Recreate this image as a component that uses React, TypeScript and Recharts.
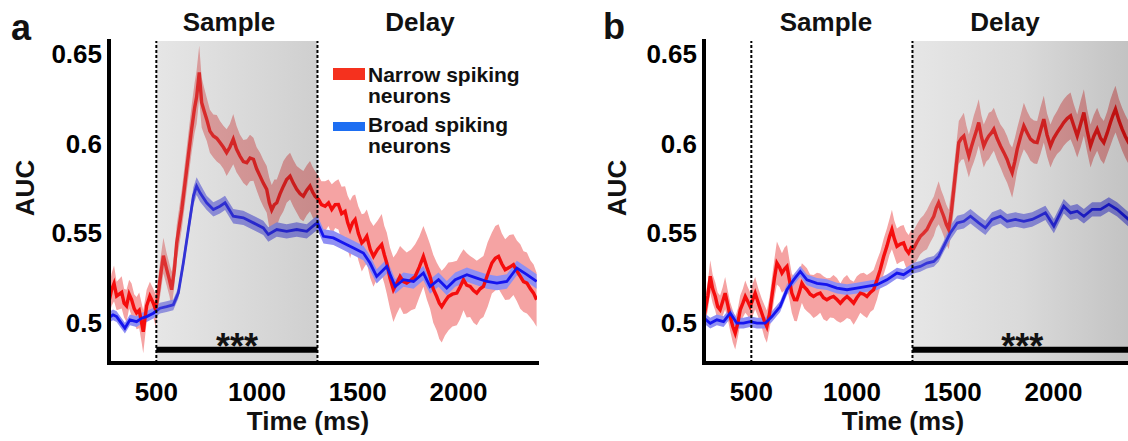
import React from "react";
import {
  ComposedChart,
  Line,
  Area,
  XAxis,
  YAxis,
  ReferenceArea,
  ReferenceLine,
  Legend,
} from "recharts";

const FONT = "'Liberation Sans', Arial, Helvetica, sans-serif";

// [time (ms), AUC, sem]
const narrowA: [number, number, number][] = [
  [265, 0.512, 0.008], [278, 0.5185, 0.009], [290, 0.522, 0.01], [303, 0.515, 0.008],
  [328, 0.517, 0.009], [340, 0.511, 0.008], [352, 0.5095, 0.009], [365, 0.516, 0.008],
  [377, 0.513, 0.009], [390, 0.508, 0.008], [402, 0.5055, 0.009], [415, 0.507, 0.01],
  [427, 0.5, 0.011], [435, 0.495, 0.012], [452, 0.5095, 0.009], [468, 0.515, 0.008],
  [485, 0.511, 0.008], [497, 0.507, 0.009], [510, 0.517, 0.009], [523, 0.528, 0.01],
  [535, 0.5375, 0.01], [551, 0.53, 0.009], [565, 0.524, 0.009], [576, 0.5185, 0.01],
  [590, 0.53, 0.009], [601, 0.5445, 0.01], [626, 0.563, 0.011], [650, 0.585, 0.012],
  [675, 0.608, 0.013], [690, 0.62, 0.014], [700, 0.626, 0.015], [713, 0.6398, 0.015],
  [725, 0.623, 0.014], [738, 0.618, 0.013], [750, 0.6137, 0.012], [766, 0.607, 0.012],
  [783, 0.6043, 0.012], [800, 0.603, 0.013], [816, 0.6006, 0.012], [833, 0.598, 0.012],
  [849, 0.595, 0.013], [865, 0.598, 0.013], [882, 0.6025, 0.014], [898, 0.597, 0.013],
  [915, 0.5931, 0.012], [932, 0.59, 0.012], [949, 0.5894, 0.013], [965, 0.592, 0.013],
  [982, 0.5913, 0.012], [998, 0.586, 0.012], [1015, 0.5819, 0.013], [1031, 0.578, 0.013],
  [1048, 0.5745, 0.013], [1061, 0.567, 0.014], [1073, 0.563, 0.014], [1086, 0.566, 0.014],
  [1098, 0.567, 0.013], [1114, 0.572, 0.013], [1131, 0.5763, 0.014], [1147, 0.58, 0.013],
  [1164, 0.5819, 0.013], [1180, 0.578, 0.013], [1197, 0.5745, 0.013], [1214, 0.572, 0.014],
  [1230, 0.5707, 0.014], [1247, 0.574, 0.014], [1263, 0.5763, 0.014], [1276, 0.573, 0.014],
  [1288, 0.5707, 0.014], [1305, 0.5689, 0.013], [1320, 0.566, 0.013], [1338, 0.5651, 0.014],
  [1355, 0.567, 0.013], [1371, 0.5633, 0.014], [1388, 0.566, 0.013], [1404, 0.5661, 0.014],
  [1420, 0.561, 0.015], [1437, 0.5623, 0.014], [1450, 0.556, 0.015], [1462, 0.5521, 0.016],
  [1475, 0.556, 0.015], [1487, 0.5577, 0.014], [1503, 0.55, 0.015], [1520, 0.5446, 0.016],
  [1532, 0.546, 0.015], [1545, 0.5483, 0.015], [1562, 0.541, 0.016], [1578, 0.5371, 0.017],
  [1598, 0.541, 0.016], [1619, 0.5437, 0.017], [1632, 0.538, 0.016], [1644, 0.5334, 0.017],
  [1660, 0.525, 0.017], [1677, 0.5185, 0.018], [1693, 0.522, 0.017], [1710, 0.5259, 0.017],
  [1727, 0.523, 0.018], [1743, 0.5222, 0.017], [1765, 0.524, 0.017], [1785, 0.5259, 0.018],
  [1805, 0.531, 0.017], [1826, 0.5371, 0.017], [1843, 0.531, 0.018], [1859, 0.5259, 0.018],
  [1875, 0.519, 0.019], [1892, 0.5147, 0.019], [1905, 0.511, 0.02], [1917, 0.5091, 0.02],
  [1933, 0.512, 0.019], [1950, 0.5147, 0.019], [1970, 0.516, 0.018], [1992, 0.5166, 0.018],
  [2008, 0.52, 0.018], [2025, 0.5241, 0.017], [2041, 0.521, 0.018], [2058, 0.5203, 0.017],
  [2075, 0.518, 0.018], [2091, 0.5166, 0.018], [2108, 0.519, 0.017], [2124, 0.5203, 0.017],
  [2145, 0.527, 0.018], [2166, 0.5334, 0.017], [2183, 0.536, 0.018], [2199, 0.5371, 0.018],
  [2215, 0.533, 0.017], [2232, 0.5297, 0.017], [2253, 0.531, 0.018], [2273, 0.5325, 0.017],
  [2290, 0.529, 0.017], [2307, 0.5259, 0.018], [2323, 0.523, 0.017], [2340, 0.5222, 0.017],
  [2357, 0.519, 0.016], [2373, 0.5166, 0.016], [2388, 0.5129, 0.015],
];

const broadA: [number, number, number][] = [
  [265, 0.503, 0.003], [285, 0.5045, 0.003], [303, 0.5035, 0.003], [325, 0.5, 0.003],
  [344, 0.497, 0.003], [369, 0.5017, 0.003], [402, 0.5007, 0.003], [427, 0.5026, 0.003],
  [452, 0.5035, 0.003], [485, 0.5054, 0.003], [518, 0.5082, 0.003], [551, 0.5091, 0.003],
  [584, 0.5101, 0.003], [609, 0.5166, 0.003], [634, 0.5334, 0.004], [659, 0.5521, 0.004],
  [684, 0.5707, 0.005], [700, 0.5763, 0.005], [717, 0.5726, 0.005], [750, 0.567, 0.004],
  [783, 0.5633, 0.004], [816, 0.5651, 0.004], [841, 0.567, 0.004], [882, 0.5595, 0.004],
  [932, 0.5586, 0.004], [982, 0.5558, 0.004], [1031, 0.553, 0.004], [1056, 0.5493, 0.004],
  [1098, 0.5521, 0.004], [1147, 0.5511, 0.004], [1197, 0.5521, 0.004], [1247, 0.5511, 0.004],
  [1288, 0.5549, 0.004], [1300, 0.5558, 0.004], [1330, 0.5483, 0.004], [1379, 0.5474, 0.004],
  [1429, 0.5446, 0.004], [1479, 0.5418, 0.004], [1528, 0.539, 0.004], [1561, 0.5334, 0.004],
  [1594, 0.5259, 0.004], [1644, 0.5315, 0.004], [1686, 0.5203, 0.004], [1727, 0.5241, 0.004],
  [1777, 0.5231, 0.004], [1826, 0.5278, 0.004], [1859, 0.5203, 0.004], [1901, 0.5241, 0.004],
  [1942, 0.5194, 0.004], [1984, 0.5241, 0.004], [2042, 0.5269, 0.004], [2091, 0.525, 0.004],
  [2141, 0.5231, 0.004], [2191, 0.5222, 0.004], [2240, 0.5231, 0.004], [2290, 0.5306, 0.004],
  [2340, 0.5269, 0.004], [2388, 0.5231, 0.004],
];

const narrowB: [number, number, number][] = [
  [265, 0.5035, 0.007], [284, 0.515, 0.008], [296, 0.526, 0.009], [308, 0.519, 0.008],
  [321, 0.5147, 0.008], [333, 0.509, 0.008], [345, 0.5073, 0.008], [358, 0.512, 0.008],
  [370, 0.5166, 0.009], [383, 0.51, 0.008], [395, 0.5035, 0.008], [408, 0.498, 0.009],
  [420, 0.4942, 0.009], [433, 0.5, 0.008], [445, 0.5073, 0.008], [458, 0.511, 0.008],
  [470, 0.5147, 0.009], [482, 0.512, 0.008], [494, 0.5091, 0.008], [507, 0.513, 0.009],
  [519, 0.5166, 0.009], [535, 0.511, 0.008], [552, 0.5054, 0.008], [565, 0.501, 0.009],
  [577, 0.4979, 0.009], [590, 0.505, 0.009], [602, 0.5147, 0.01], [615, 0.525, 0.011],
  [627, 0.5334, 0.012], [640, 0.531, 0.011], [652, 0.5278, 0.011], [665, 0.53, 0.012],
  [677, 0.5315, 0.012], [689, 0.524, 0.011], [701, 0.5166, 0.011], [714, 0.513, 0.012],
  [726, 0.5129, 0.012], [738, 0.517, 0.011], [751, 0.5222, 0.011], [763, 0.52, 0.012],
  [776, 0.5185, 0.012], [792, 0.516, 0.011], [809, 0.5147, 0.012], [826, 0.516, 0.012],
  [842, 0.5166, 0.011], [858, 0.514, 0.012], [875, 0.5129, 0.012], [891, 0.514, 0.011],
  [908, 0.5147, 0.012], [925, 0.513, 0.012], [942, 0.511, 0.011], [958, 0.513, 0.012],
  [975, 0.5147, 0.012], [991, 0.513, 0.011], [1008, 0.511, 0.012], [1024, 0.514, 0.012],
  [1041, 0.5166, 0.011], [1058, 0.516, 0.012], [1074, 0.5147, 0.012], [1091, 0.517, 0.011],
  [1107, 0.5185, 0.011], [1124, 0.524, 0.011], [1140, 0.5297, 0.01], [1157, 0.537, 0.01],
  [1173, 0.5427, 0.01], [1186, 0.548, 0.01], [1198, 0.5521, 0.011], [1210, 0.547, 0.01],
  [1223, 0.5427, 0.01], [1240, 0.544, 0.01], [1256, 0.5446, 0.01], [1268, 0.541, 0.01],
  [1281, 0.539, 0.01], [1294, 0.542, 0.01], [1306, 0.5415, 0.01], [1322, 0.545, 0.01],
  [1339, 0.5483, 0.01], [1355, 0.55, 0.01], [1372, 0.5521, 0.011], [1389, 0.556, 0.011],
  [1406, 0.5595, 0.011], [1418, 0.564, 0.011], [1430, 0.567, 0.012], [1443, 0.563, 0.011],
  [1455, 0.5595, 0.011], [1468, 0.555, 0.011], [1480, 0.5521, 0.011], [1493, 0.562, 0.012],
  [1505, 0.5745, 0.012], [1518, 0.588, 0.012], [1530, 0.6006, 0.012], [1543, 0.603, 0.012],
  [1555, 0.6043, 0.013], [1568, 0.598, 0.012], [1580, 0.5931, 0.012], [1592, 0.598, 0.012],
  [1604, 0.6025, 0.013], [1617, 0.607, 0.013], [1629, 0.6118, 0.013], [1642, 0.604, 0.012],
  [1654, 0.5987, 0.012], [1667, 0.602, 0.012], [1679, 0.6043, 0.013], [1692, 0.606, 0.012],
  [1704, 0.6081, 0.012], [1720, 0.603, 0.012], [1737, 0.5987, 0.012], [1754, 0.595, 0.013],
  [1770, 0.5912, 0.013], [1783, 0.587, 0.013], [1795, 0.5838, 0.014], [1808, 0.59, 0.013],
  [1820, 0.5968, 0.012], [1837, 0.604, 0.012], [1853, 0.6099, 0.013], [1870, 0.606, 0.012],
  [1886, 0.6025, 0.012], [1903, 0.601, 0.012], [1919, 0.6006, 0.012], [1935, 0.607, 0.013],
  [1952, 0.6137, 0.013], [1968, 0.605, 0.012], [1985, 0.5987, 0.012], [2001, 0.603, 0.012],
  [2018, 0.6062, 0.012], [2035, 0.609, 0.013], [2051, 0.6118, 0.013], [2068, 0.614, 0.013],
  [2085, 0.6155, 0.013], [2101, 0.61, 0.012], [2118, 0.6043, 0.012], [2135, 0.611, 0.013],
  [2151, 0.6174, 0.013], [2168, 0.607, 0.012], [2184, 0.5987, 0.012], [2200, 0.604, 0.012],
  [2217, 0.6081, 0.012], [2234, 0.603, 0.012], [2250, 0.6006, 0.012], [2267, 0.606, 0.012],
  [2283, 0.6118, 0.013], [2296, 0.616, 0.013], [2308, 0.6193, 0.013], [2325, 0.613, 0.012],
  [2341, 0.6081, 0.012], [2357, 0.604, 0.012], [2373, 0.6006, 0.012], [2390, 0.598, 0.012],
];

const broadB: [number, number, number][] = [
  [265, 0.5026, 0.003], [296, 0.4998, 0.003], [329, 0.5017, 0.003], [362, 0.5007, 0.003],
  [395, 0.5054, 0.003], [428, 0.4998, 0.003], [461, 0.4998, 0.003], [494, 0.5007, 0.003],
  [528, 0.4998, 0.003], [569, 0.4998, 0.003], [602, 0.5035, 0.003], [643, 0.5091, 0.003],
  [677, 0.5185, 0.003], [710, 0.524, 0.003], [743, 0.5287, 0.003], [776, 0.524, 0.003],
  [826, 0.522, 0.003], [875, 0.5213, 0.003], [925, 0.5194, 0.003], [975, 0.5185, 0.003],
  [1024, 0.5194, 0.003], [1074, 0.5203, 0.003], [1124, 0.5213, 0.003], [1173, 0.524, 0.003],
  [1223, 0.5278, 0.003], [1256, 0.5269, 0.003], [1306, 0.5306, 0.003], [1339, 0.5315, 0.003],
  [1372, 0.5334, 0.003], [1406, 0.5343, 0.003], [1430, 0.5371, 0.003], [1455, 0.5427, 0.003],
  [1488, 0.5502, 0.004], [1522, 0.5558, 0.004], [1555, 0.5567, 0.004], [1588, 0.5595, 0.004],
  [1629, 0.5558, 0.004], [1662, 0.553, 0.004], [1695, 0.5577, 0.004], [1737, 0.5595, 0.004],
  [1770, 0.5567, 0.004], [1811, 0.5577, 0.004], [1853, 0.5567, 0.004], [1894, 0.5577, 0.004],
  [1927, 0.5595, 0.004], [1960, 0.5614, 0.004], [2002, 0.554, 0.004], [2051, 0.5651, 0.004],
  [2085, 0.5614, 0.004], [2118, 0.5623, 0.004], [2151, 0.5595, 0.004], [2192, 0.5633, 0.004],
  [2234, 0.5633, 0.004], [2275, 0.5661, 0.004], [2316, 0.5633, 0.004], [2373, 0.5577, 0.004],
  [2390, 0.557, 0.004],
];

const timeTicks = [500, 1000, 1500, 2000];
const aucTicks = [0.5, 0.55, 0.6, 0.65];
const timeDomain: [number, number] = [265, 2390];
const aucDomain: [number, number] = [0.4776, 0.6573];
const sampleOnset = 500;
const delayOnset = 1300;
const sigLevel = 0.485;
const legendNames = ["Narrow spiking\nneurons", "Broad spiking\nneurons"];

const RED = "#f50d0d";
const RED_BAND = "#f5a3a3";
const BLUE = "#1515ee";
const BLUE_BAND = "#8f8ff3";

const toRows = (s: [number, number, number][]) =>
  s.map(([t, auc, sem]) => ({ t, auc, band: [auc - sem, auc + sem] }));

const tickStyle = { fill: "#000", fontSize: 26, fontWeight: 700, fontFamily: FONT };
const axisLineStyle = { stroke: "#000", strokeWidth: 4, strokeLinecap: "square" };

const LegendBox = () => (
  <div style={{ fontFamily: FONT, fontWeight: 700, fontSize: 21, lineHeight: "21px", color: "#111" }}>
    {legendNames.map((name, i) => (
      <div key={name} style={{ display: "flex", alignItems: "flex-start", marginTop: i ? 8 : 0 }}>
        <div
          style={{
            width: 32,
            height: i ? 9 : 12,
            marginTop: i ? 8 : 4,
            marginRight: 3,
            background: i ? "#1d6ef2" : "#f5311e",
          }}
        />
        <div style={{ whiteSpace: "pre-line" }}>{name}</div>
      </div>
    ))}
  </div>
);

interface PanelProps {
  narrow: [number, number, number][];
  broad: [number, number, number][];
  shadeFrom: number;
  shadeTo: number;
  gradId: string;
  stops: string[];
  showLegend?: boolean;
}

const Panel: React.FC<PanelProps> = ({ narrow, broad, shadeFrom, shadeTo, gradId, stops, showLegend }) => {
  const narrowRows = toRows(narrow);
  const broadRows = toRows(broad);
  return (
    <ComposedChart width={560} height={441} margin={{ top: 41, right: 23, bottom: 0, left: 39 }}>
      <defs>
        <linearGradient id={gradId} x1="0" y1="0" x2="1" y2="0">
          {stops.map((c, i) => (
            <stop key={i} offset={`${(i / (stops.length - 1)) * 100}%`} stopColor={c} />
          ))}
        </linearGradient>
      </defs>
      <XAxis
        type="number"
        dataKey="t"
        domain={timeDomain}
        ticks={timeTicks}
        allowDataOverflow
        height={78}
        axisLine={axisLineStyle}
        tickLine={false}
        tickSize={6}
        tickMargin={14}
        tick={tickStyle}
      />
      <YAxis
        type="number"
        domain={aucDomain}
        ticks={aucTicks}
        allowDataOverflow
        width={70}
        axisLine={axisLineStyle}
        tickLine={false}
        tickSize={5}
        tickMargin={2}
        tick={tickStyle}
      />
      <Area data={narrowRows} dataKey="band" type="linear" stroke="none" fill={RED_BAND} fillOpacity={1} isAnimationActive={false} activeDot={false} />
      <Area data={broadRows} dataKey="band" type="linear" stroke="none" fill={BLUE_BAND} fillOpacity={1} isAnimationActive={false} activeDot={false} />
      <Line data={narrowRows} dataKey="auc" type="linear" stroke={RED} strokeWidth={3.4} dot={false} activeDot={false} isAnimationActive={false} />
      <Line data={broadRows} dataKey="auc" type="linear" stroke={BLUE} strokeWidth={2.8} dot={false} activeDot={false} isAnimationActive={false} />
      <ReferenceArea x1={shadeFrom} x2={shadeTo} fill={`url(#${gradId})`} fillOpacity={0.25} stroke="none" ifOverflow="hidden" zIndex={450} />
      <ReferenceLine x={sampleOnset} stroke="#000" strokeWidth={2} strokeDasharray="3 2" zIndex={700} />
      <ReferenceLine x={delayOnset} stroke="#000" strokeWidth={2} strokeDasharray="3 2" zIndex={700} />
      <ReferenceLine
        segment={[{ x: shadeFrom, y: sigLevel }, { x: shadeTo, y: sigLevel }]}
        stroke="#000"
        strokeWidth={6}
        zIndex={700}
        label={{ value: "***", position: "top", offset: -9, fill: "#111", fontSize: 36, fontWeight: 700, fontFamily: FONT }}
      />
      {showLegend && (
        <Legend
          layout="horizontal"
          verticalAlign="middle"
          align="center"
          content={<LegendBox />}
          wrapperStyle={{ left: 333, top: 64, width: 230 }}
        />
      )}
    </ComposedChart>
  );
};

const txt = { fontFamily: FONT, fontWeight: 700, fill: "#111" };

export default function App() {
  return (
    <div style={{ position: "absolute", left: 0, top: 0, width: 1128, height: 441, overflow: "hidden", background: "#fff" }}>
      <div style={{ position: "absolute", left: 0, top: 0 }}>
        <Panel narrow={narrowA} broad={broadA} shadeFrom={sampleOnset} shadeTo={delayOnset} gradId="shadeA" stops={["#9c9c9c", "#404040"]} showLegend />
      </div>
      <div style={{ position: "absolute", left: 595, top: 0 }}>
        <Panel narrow={narrowB} broad={broadB} shadeFrom={delayOnset} shadeTo={timeDomain[1]} gradId="shadeB" stops={["#9c9c9c", "#6a6a6a", "#0c0c0c"]} />
      </div>
      <svg width={1128} height={441} style={{ position: "absolute", left: 0, top: 0, pointerEvents: "none" }}>
        <text x={11} y={40} fontSize={36} {...txt}>a</text>
        <text x={229} y={31} fontSize={26} textAnchor="middle" {...txt}>Sample</text>
        <text x={420} y={31} fontSize={26} textAnchor="middle" {...txt}>Delay</text>
        <text transform="translate(25,188) rotate(-90)" fontSize={26} textAnchor="middle" dominantBaseline="central" {...txt}>AUC</text>
        <text x={308} y={430} fontSize={26} textAnchor="middle" {...txt}>Time (ms)</text>
        <text x={603} y={39} fontSize={36} {...txt}>b</text>
        <text x={826} y={31} fontSize={26} textAnchor="middle" {...txt}>Sample</text>
        <text x={1005} y={31} fontSize={26} textAnchor="middle" {...txt}>Delay</text>
        <text transform="translate(617,188) rotate(-90)" fontSize={26} textAnchor="middle" dominantBaseline="central" {...txt}>AUC</text>
        <text x={903} y={430} fontSize={26} textAnchor="middle" {...txt}>Time (ms)</text>
      </svg>
    </div>
  );
}
